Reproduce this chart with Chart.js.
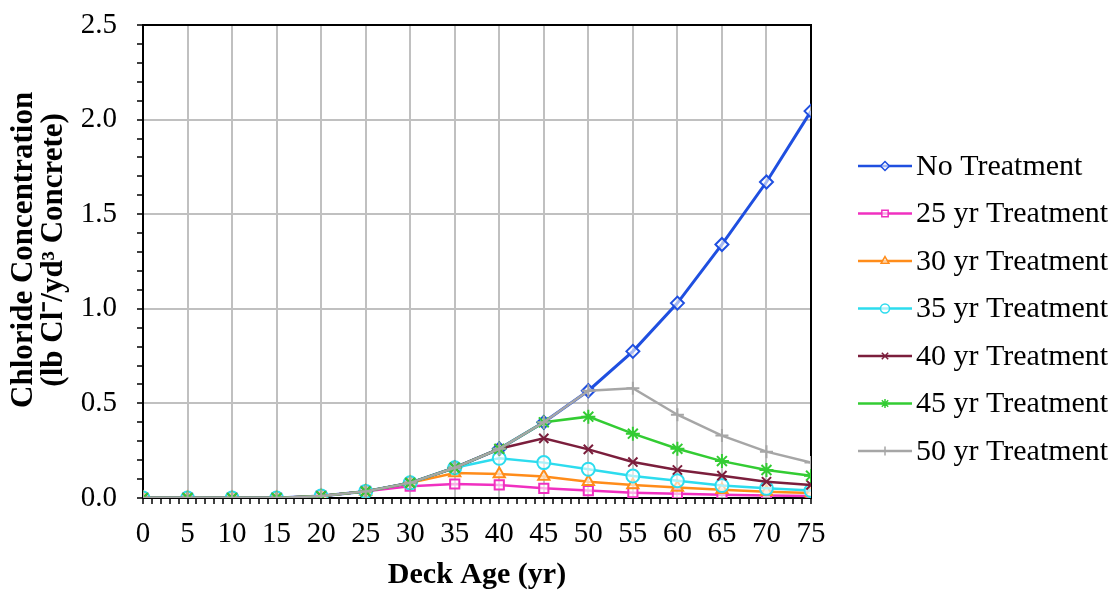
<!DOCTYPE html>
<html><head><meta charset="utf-8">
<script src="https://cdn.jsdelivr.net/npm/chart.js@4/dist/chart.umd.min.js"></script>
<style>html,body{margin:0;padding:0;background:#fff;overflow:hidden}</style>
</head><body>
<canvas id="c" width="1115" height="590"></canvas>
<script>
// ---- data ----
const years = [0,5,10,15,20,25,30,35,40,45,50,55,60,65,70,75];
const seriesNames = ['No Treatment','25 yr Treatment','30 yr Treatment','35 yr Treatment','40 yr Treatment','45 yr Treatment','50 yr Treatment'];
const noTreatment = [0,0,0,0,0.01,0.035,0.08,0.16,0.26,0.40,0.567,0.775,1.03,1.34,1.67,2.045];
const treat25 = [0,0,0,0,0.01,0.035,0.062,0.074,0.069,0.051,0.039,0.028,0.022,0.017,0.013,0.010];
const treat30 = [0,0,0,0,0.01,0.035,0.08,0.132,0.127,0.113,0.086,0.069,0.055,0.043,0.033,0.026];
const treat35 = [0,0,0,0,0.01,0.035,0.08,0.16,0.21,0.187,0.152,0.116,0.091,0.066,0.051,0.039];
const treat40 = [0,0,0,0,0.01,0.035,0.08,0.16,0.26,0.315,0.257,0.19,0.148,0.118,0.086,0.069];
const treat45 = [0,0,0,0,0.01,0.035,0.08,0.16,0.26,0.40,0.43,0.34,0.26,0.195,0.148,0.118];
const treat50 = [0,0,0,0,0.01,0.035,0.08,0.16,0.26,0.40,0.567,0.58,0.44,0.33,0.245,0.187];
const yTickLabels = ['0.0','0.5','1.0','1.5','2.0','2.5'];
const xTickLabels = ['0','5','10','15','20','25','30','35','40','45','50','55','60','65','70','75'];

// ---- styles ----
const seriesValues = [noTreatment, treat25, treat30, treat35, treat40, treat45, treat50];
const colors = ['#1f4fe0','#f030c0','#ff8c1a','#2ddcee','#7b1e3c','#33cc33','#a6a6a6'];
const pStyles = ['rectRot','rect','triangle','circle','crossRot','star','cross'];
const pRadius = [6.5,6.5,6.5,6.5,6.5,7,6.5];

const FONT = "'Liberation Serif','Times New Roman',serif";

const datasets = seriesNames.map((name,i)=>({
  label: name,
  data: years.map((x,j)=>({x:x, y:seriesValues[i][j]})),
  borderColor: colors[i],
  backgroundColor: i<4 ? '#ffffff' : colors[i],
  pointBorderColor: colors[i],
  pointBackgroundColor: i<4 ? 'rgba(255,255,255,0.6)' : colors[i],
  pointStyle: pStyles[i],
  pointRadius: pRadius[i],
  pointBorderWidth: 2,
  borderWidth: i===0 ? 3 : 2.5,
  tension: 0,
  fill: false,
  order: seriesNames.length - i
}));

const isMajorY = v => Math.abs(v*2 - Math.round(v*2)) < 1e-6;
const isMajorX = v => Math.abs(v/5 - Math.round(v/5)) < 1e-6;

const framePlugin = {
  id:'frame',
  beforeDatasetsDraw(chart){
    const {ctx, chartArea:a} = chart;
    ctx.save();
    ctx.strokeStyle = '#000'; ctx.lineWidth = 2;
    ctx.strokeRect(a.left, a.top, a.right-a.left, a.bottom-a.top);
    ctx.restore();
  }
};

const legendPlugin = {
  id:'sideLegend',
  afterDraw(chart){
    const ctx = chart.ctx;
    const x0 = 858, len = 54, y0 = 166, rowH = 47.5;
    chart.data.datasets.forEach((ds,i)=>{
      const y = y0 + i*rowH;
      ctx.save();
      ctx.strokeStyle = ds.borderColor; ctx.lineWidth = 2.5;
      ctx.beginPath(); ctx.moveTo(x0,y); ctx.lineTo(x0+len,y); ctx.stroke();
      ctx.fillStyle = ds.pointBackgroundColor; ctx.strokeStyle = ds.pointBorderColor; ctx.lineWidth = 1.5;
      if (Chart.helpers && Chart.helpers.drawPoint) {
        Chart.helpers.drawPoint(ctx, {pointStyle: ds.pointStyle, radius: 4.5, rotation: 0, borderWidth: 1.5}, x0+len/2, y);
      }
      ctx.fillStyle = '#000';
      ctx.font = "30px " + FONT;
      ctx.textBaseline = 'middle'; ctx.textAlign = 'left';
      ctx.fillText(ds.label, x0+len+4, y+1);
      ctx.restore();
    });
  }
};

const NB = '\u00A0\u00A0\u00A0';

new Chart(document.getElementById('c'), {
  type: 'line',
  data: { datasets },
  options: {
    responsive: false,
    animation: false,
    layout: { padding: { left: 0, right: 304, top: 25, bottom: 0 } },
    plugins: { legend: { display: false }, tooltip: { enabled: false } },
    scales: {
      x: {
        type: 'linear', min: 0, max: 75,
        afterFit(s){ s.height = 92; },
        border: { color: '#000', width: 2 },
        grid: {
          color: c => isMajorX(c.tick.value) ? '#c0c0c0' : 'rgba(0,0,0,0)',
          lineWidth: 2, tickColor: '#000', tickLength: 6, tickWidth: 1.5
        },
        ticks: {
          stepSize: 1, autoSkip: false, maxRotation: 0, color: '#000', padding: 13,
          font: { family: FONT, size: 29 },
          callback: v => isMajorX(v) ? xTickLabels[Math.round(v/5)] : ''
        },
        title: { display: true, text: 'Deck Age (yr)', color: '#000',
          font: { family: FONT, size: 30, weight: 'bold', lineHeight: 1.0 }, padding: { top: 0, bottom: 0 } }
      },
      y: {
        min: 0, max: 2.5,
        afterFit(s){ s.width = 143; s.paddingTop = 0; s.paddingBottom = 0; },
        border: { color: '#000', width: 2 },
        grid: {
          color: c => isMajorY(c.tick.value) ? '#c0c0c0' : 'rgba(0,0,0,0)',
          lineWidth: 2, tickColor: '#000', tickLength: 6, tickWidth: 1.5
        },
        ticks: {
          stepSize: 0.1, autoSkip: false, color: '#000', padding: 20,
          font: { family: FONT, size: 29 },
          callback: v => isMajorY(v) ? yTickLabels[Math.round(v*2)] : ''
        },
        title: { display: true, text: [NB+'Chloride Concentration', NB+'(lb Cl\u207B/yd\u00B3 Concrete)'], color: '#000',
          font: { family: FONT, size: 31, weight: 'bold', lineHeight: 0.97 }, padding: { top: 9, bottom: 0 } }
      }
    }
  },
  plugins: [framePlugin, legendPlugin]
});
</script>
</body></html>
